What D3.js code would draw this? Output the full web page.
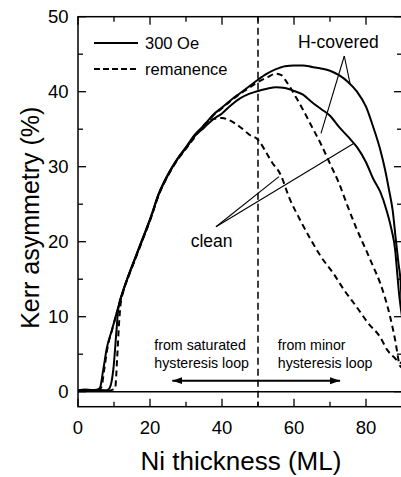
<!DOCTYPE html>
<html>
<head>
<meta charset="utf-8">
<script src="https://cdn.jsdelivr.net/npm/d3@7"></script>
<style>
  body { margin: 0; background: #fff; }
  svg { display: block; font-family: "Liberation Sans", Arial, sans-serif; }
</style>
</head>
<body>
<div id="chart"></div>
<script>
// Chart area (pixels)
const W = 401, H = 477;
const plot = { left: 78, right: 402, top: 16.7, bottom: 406.7 };

// --- data (Ni thickness in ML, Kerr asymmetry in %) ---
const hField_x = [0, 2, 4, 5.5, 6.1, 7, 8, 9.4, 11.2, 12.6, 14, 16, 18, 20, 22.5, 25, 27.5, 30, 32.5, 35, 37.5, 40, 42.5, 45, 47.5, 50, 52.5, 55, 57.5, 60, 62.5, 65, 67.5, 70, 72.5, 75, 77.5, 80, 82, 84, 85.3, 86.4, 87.4, 88.3, 89, 89.7, 90];
const hField_y = [0.2, 0.3, 0.2, 0.3, 0.5, 2.9, 5.8, 8.2, 11.3, 13.6, 15.5, 18, 20.5, 23, 26.5, 29.0, 31.0, 32.6, 34.3, 35.5, 36.9, 37.9, 38.9, 39.8, 40.7, 41.6, 42.4, 43.0, 43.4, 43.5, 43.5, 43.3, 43.1, 42.8, 42.2, 41.3, 40.0, 38.0, 35.3, 32.2, 29.6, 26.9, 24.2, 20.2, 17.2, 14, 10.5];

const hRem_x = [0, 2, 4, 5.8, 6.5, 7.3, 8.2, 9.5, 11.2, 12.6, 14, 16, 18, 20, 22.5, 25, 27.5, 30, 32.5, 35, 37.5, 40, 42.5, 45, 47.5, 50, 52.5, 55, 56.5, 57.5, 59.3, 60.5, 62.5, 65, 67.5, 70, 72.5, 75, 77.5, 80, 82, 84, 86.7, 88.1, 89.4, 90];
const hRem_y = [0.1, 0.2, 0.1, 0.2, 0.6, 3.0, 5.9, 8.3, 11.2, 13.5, 15.4, 17.9, 20.4, 22.9, 26.4, 28.9, 30.9, 32.5, 34.2, 35.4, 36.8, 37.8, 38.8, 39.7, 40.5, 41.3, 41.9, 42.4, 42.2, 41.6, 40.3, 39.3, 37.6, 35.3, 33.0, 30.4, 27.8, 24.6, 21.6, 18.9, 16.7, 14.4, 10.0, 6.9, 3.5, 3.2];

const cField_x = [0, 2, 4, 6, 8, 8.8, 9.8, 10.7, 11.2, 12.6, 14, 16, 18, 20, 22.5, 25, 27.5, 30, 32.5, 35, 37.5, 40, 42.5, 45, 47.5, 50, 52.5, 55, 57.5, 60, 62.5, 65, 67.5, 70, 72.5, 75, 77.5, 80, 82, 84, 85.7, 87.1, 88.1, 88.6, 89.2, 90];
const cField_y = [0.2, 0.1, 0.2, 0.2, 0.2, 0.5, 2.9, 8.2, 11.1, 13.5, 15.4, 17.9, 20.4, 22.9, 26.4, 28.9, 30.9, 32.5, 34.1, 35.2, 36.3, 37.1, 38.2, 39.1, 39.7, 40.1, 40.4, 40.6, 40.5, 40.1, 39.6, 38.6, 37.7, 36.8, 35.3, 34.0, 32.6, 30.6, 28.4, 26.6, 24.2, 21.6, 18.9, 16.2, 13.0, 10.0];

const cRem_x = [0, 2, 4, 6, 8, 10.3, 10.9, 11.4, 11.8, 12.6, 14, 16, 18, 20, 22.5, 25, 27.5, 30, 32.5, 34, 36, 38, 40, 42, 45, 47.5, 50, 52.4, 54, 56.1, 58.9, 61.7, 64.4, 67.5, 70.9, 74, 77.4, 80.5, 83.9, 86, 88, 89, 90];
const cRem_y = [0.1, 0.2, 0.1, 0.2, 0.1, 0.4, 4.7, 9.1, 11.5, 13.4, 15.3, 17.8, 20.3, 22.8, 26.3, 28.8, 30.8, 32.4, 34.0, 35.0, 36.0, 36.4, 36.5, 36.2, 35.3, 34.3, 33.6, 31.8, 30.5, 29.1, 25.6, 22.9, 20.5, 18.0, 15.8, 13.5, 11.3, 9.2, 7.3, 5.5, 4.5, 4.0, 3.8];

const xTicks = [0, 20, 40, 60, 80];
const yTicks = [0, 10, 20, 30, 40, 50];

const svg = d3.select("#chart").append("svg")
    .attr("width", W)
    .attr("height", H);

const x = d3.scaleLinear().domain([0, 90]).range([plot.left, plot.right]);
const y = d3.scaleLinear().domain([-2, 50]).range([plot.bottom, plot.top]);

// clip the curves to the frame
svg.append("clipPath").attr("id", "clip")
    .append("rect")
    .attr("x", plot.left).attr("y", plot.top)
    .attr("width", plot.right - plot.left).attr("height", plot.bottom - plot.top);

// frame
svg.append("rect")
    .attr("x", plot.left).attr("y", plot.top)
    .attr("width", plot.right - plot.left).attr("height", plot.bottom - plot.top)
    .attr("fill", "none").attr("stroke", "#000").attr("stroke-width", 1.5);

// inward ticks on all four sides
const ticks = svg.append("g").attr("stroke", "#000").attr("stroke-width", 1.3);
d3.range(0, 91, 10).forEach(v => {
    const len = v % 20 === 0 ? 8 : 5;
    ticks.append("line").attr("x1", x(v)).attr("x2", x(v)).attr("y1", plot.bottom).attr("y2", plot.bottom - len);
    ticks.append("line").attr("x1", x(v)).attr("x2", x(v)).attr("y1", plot.top).attr("y2", plot.top + len);
});
d3.range(0, 51, 5).forEach(v => {
    const len = v % 10 === 0 ? 8 : 5;
    ticks.append("line").attr("x1", plot.left).attr("x2", plot.left + len).attr("y1", y(v)).attr("y2", y(v));
    ticks.append("line").attr("x1", plot.right).attr("x2", plot.right - len).attr("y1", y(v)).attr("y2", y(v));
});

// tick labels
svg.append("g").selectAll("text").data(xTicks).enter().append("text")
    .attr("x", d => x(d)).attr("y", 433.5)
    .attr("text-anchor", "middle").attr("font-size", 18.5)
    .text(d => d);
svg.append("g").selectAll("text").data(yTicks).enter().append("text")
    .attr("x", 68.5).attr("y", d => y(d)).attr("dy", "0.35em")
    .attr("text-anchor", "end").attr("font-size", 18.5)
    .text(d => d);

// axis titles
svg.append("text")
    .attr("x", 241).attr("y", 470)
    .attr("text-anchor", "middle").attr("font-size", 26)
    .text("Ni thickness (ML)");
svg.append("text")
    .attr("transform", `translate(39, ${(plot.top + plot.bottom) / 2 + 6}) rotate(-90)`)
    .attr("text-anchor", "middle").attr("font-size", 25)
    .text("Kerr asymmetry (%)");

// zero line and the 50 ML divider
svg.append("line")
    .attr("x1", plot.left).attr("x2", plot.right).attr("y1", y(0)).attr("y2", y(0))
    .attr("stroke", "#000").attr("stroke-width", 1.5);
svg.append("line")
    .attr("x1", x(50)).attr("x2", x(50)).attr("y1", plot.top).attr("y2", plot.bottom)
    .attr("stroke", "#000").attr("stroke-width", 1.5).attr("stroke-dasharray", "7,4");

// curves
const line = d3.line().x(d => x(d[0])).y(d => y(d[1])).curve(d3.curveMonotoneX);
const series = [
    { xs: hField_x, ys: hField_y, dash: null },
    { xs: cField_x, ys: cField_y, dash: null },
    { xs: hRem_x, ys: hRem_y, dash: "6,4" },
    { xs: cRem_x, ys: cRem_y, dash: "6,4" }
];
const curves = svg.append("g").attr("clip-path", "url(#clip)");
series.forEach(s => {
    curves.append("path")
        .datum(d3.zip(s.xs, s.ys))
        .attr("d", line)
        .attr("fill", "none")
        .attr("stroke", "#000")
        .attr("stroke-width", 2)
        .attr("stroke-dasharray", s.dash);
});

// legend
const legend = svg.append("g").attr("font-size", 16.5);
legend.append("line").attr("x1", 94).attr("x2", 138).attr("y1", 43).attr("y2", 43)
    .attr("stroke", "#000").attr("stroke-width", 2);
legend.append("text").attr("x", 145).attr("y", 49).text("300 Oe");
legend.append("line").attr("x1", 94).attr("x2", 138).attr("y1", 69).attr("y2", 69)
    .attr("stroke", "#000").attr("stroke-width", 2).attr("stroke-dasharray", "6,3");
legend.append("text").attr("x", 145).attr("y", 75).text("remanence");

// callouts (data coordinates)
const hApex = [73.97, 44.76], hEnds = [[67.5, 34.45], [75.56, 41.1]];
const cApex = [38.33, 22.0], cEnds = [[55.83, 28.67], [76.67, 33.12]];
const notes = svg.append("g").attr("stroke", "#000").attr("stroke-width", 1.1);
[[hApex, hEnds], [cApex, cEnds]].forEach(([a, ends]) => {
    ends.forEach(e => {
        notes.append("line")
            .attr("x1", x(a[0])).attr("y1", y(a[1]))
            .attr("x2", x(e[0])).attr("y2", y(e[1]));
    });
});
svg.append("text").attr("x", x(61.1)).attr("y", y(45.8)).attr("font-size", 17.5).text("H-covered");
svg.append("text").attr("x", x(31.3)).attr("y", y(19.3)).attr("font-size", 17.5).text("clean");

// region notes and double arrow
const small = svg.append("g").attr("font-size", 14.2);
small.append("text").attr("x", x(21.2)).attr("y", 350).text("from saturated");
small.append("text").attr("x", x(21.2)).attr("y", 368).text("hysteresis loop");
small.append("text").attr("x", x(55.5)).attr("y", 350).text("from minor");
small.append("text").attr("x", x(55.5)).attr("y", 368).text("hysteresis loop");

const defs = svg.append("defs");
defs.append("marker").attr("id", "head")
    .attr("viewBox", "0 0 10 10").attr("refX", 10).attr("refY", 5)
    .attr("markerWidth", 10).attr("markerHeight", 10)
    .attr("markerUnits", "userSpaceOnUse")
    .attr("orient", "auto-start-reverse")
    .append("path").attr("d", "M0,1.5 L10,5 L0,8.5 Z").attr("fill", "#000");
svg.append("line")
    .attr("x1", x(26.2)).attr("x2", x(72.8)).attr("y1", 380.7).attr("y2", 380.7)
    .attr("stroke", "#000").attr("stroke-width", 2)
    .attr("marker-start", "url(#head)").attr("marker-end", "url(#head)");
</script>
</body>
</html>
